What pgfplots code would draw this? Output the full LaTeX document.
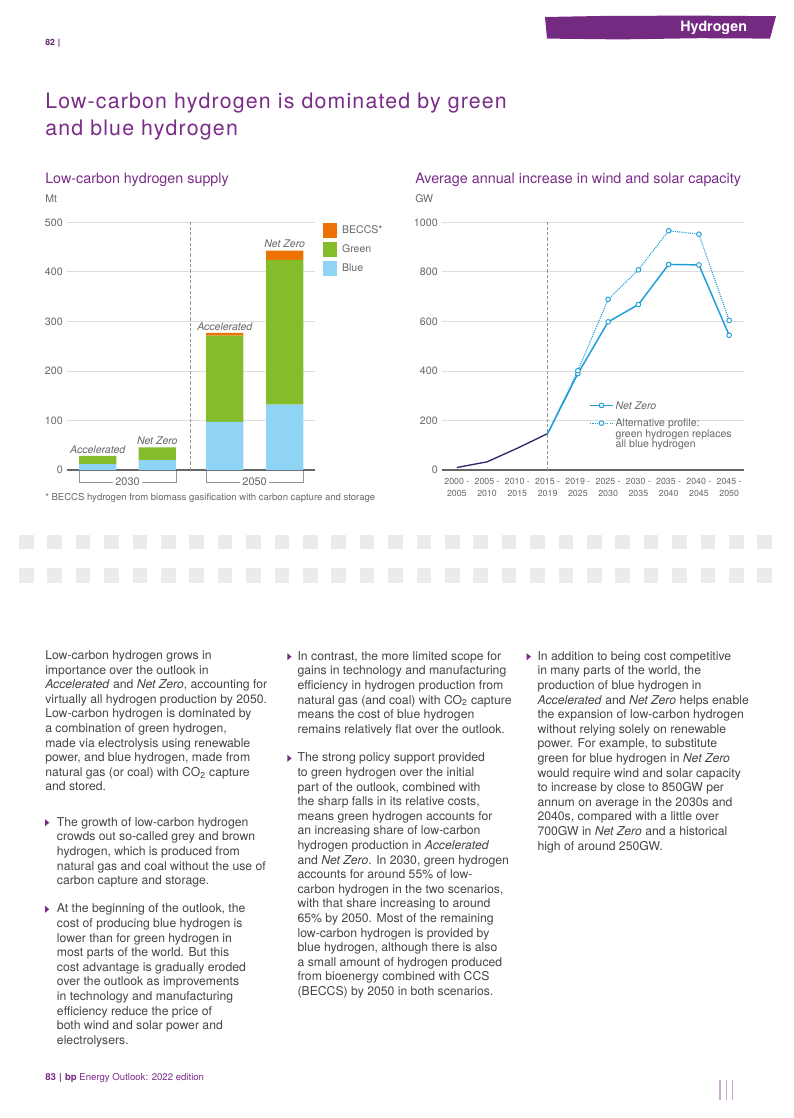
\documentclass[border=0pt]{standalone}
\usepackage{pgfplots}
\pgfplotsset{compat=1.18}
\usepackage{fontspec}
\setmainfont{TeX Gyre Heros}
\newfontfamily\titlefont[LetterSpace=5.5]{TeX Gyre Heros}

\definecolor{bppurple}{HTML}{7A2C88}
\definecolor{txt}{HTML}{444444}
\definecolor{tickc}{HTML}{666666}
\definecolor{gridc}{HTML}{DCDCDC}
\definecolor{hblue}{HTML}{8FD4F5}
\definecolor{hgreen}{HTML}{84BC2B}
\definecolor{horange}{HTML}{EE7203}
\definecolor{navy}{HTML}{2C2A6A}
\definecolor{lblue}{HTML}{1D9ED9}
\definecolor{boxgray}{HTML}{EBEBEB}

\pgfplotsset{
  bpaxis/.style={
    scale only axis, clip=false,
    axis x line*=bottom, axis y line*=left,
    y axis line style={draw=none},
    x axis line style={draw=tickc, line width=0.8pt},
    ymajorgrids, grid style={draw=gridc, line width=0.6pt},
    major tick length=0pt,
    tick label style={font=\fontsize{8}{9}\selectfont, text=tickc},
    yticklabel style={inner sep=0pt, xshift=-2.8pt},
    /pgf/number format/assume math mode=true,
    /pgf/number format/1000 sep={},
    scaled ticks=false,
  },
}

% body text paragraph, lines broken as in the report
\newcommand{\para}[3]{\node[anchor=base west, inner sep=0pt, text=txt,
  font=\fontsize{9.16}{10.95}\selectfont] at (#1,#2)
  {\parbox[t]{250pt}{\raggedright #3}};}
\newcommand{\bul}[2]{\fill[bppurple] (#1,#2-3.5) -- (#1+4.3,#2) -- (#1,#2+3.5) -- cycle;}

\begin{document}
\begin{tikzpicture}
\path[use as bounding box] (0pt,-838.5pt) rectangle (594.75pt,0pt);

\begin{scope}[x=0.75pt, y=-0.75pt]
  % header
  \node[anchor=base west, inner sep=0pt, text=bppurple!75!black,
    font=\fontsize{6.5}{8}\selectfont\bfseries] at (45,45) {82\,\,|};
  \fill[bppurple!95!black] (545,17) -- (600,16) -- (690,15.6) -- (776,16.2)
    -- (770,38.6) -- (700,38.2) -- (620,39.4) -- (547,38.6) -- cycle;
  \node[anchor=base west, inner sep=0pt, text=white,
    font=\fontsize{10.7}{12}\selectfont\bfseries] at (680,31.5) {Hydrogen};

  % page title
  \node[anchor=base west, inner sep=0pt, text=bppurple,
    font=\titlefont\fontsize{16}{20}\selectfont] at (45,108.3)
    {Low-carbon hydrogen is dominated by green};
  \node[anchor=base west, inner sep=0pt, text=bppurple,
    font=\titlefont\fontsize{16}{20}\selectfont] at (45,135)
    {and blue hydrogen};

  % chart titles and units
  \node[anchor=base west, inner sep=0pt, text=bppurple,
    font=\fontsize{10.75}{12}\selectfont] at (45,183.5) {Low-carbon hydrogen supply};
  \node[anchor=base west, inner sep=0pt, text=bppurple,
    font=\fontsize{10.75}{12}\selectfont] at (415,183.5) {Average annual increase in wind and solar capacity};
  \node[anchor=base west, inner sep=0pt, text=tickc,
    font=\fontsize{7.9}{9}\selectfont] at (45,202) {Mt};
  \node[anchor=base west, inner sep=0pt, text=tickc,
    font=\fontsize{7.9}{9}\selectfont] at (415,202) {GW};

  % year brackets under the bars
  \draw[tickc!70, line width=0.6pt] (79,470) -- (79,482) -- (176,482) -- (176,470);
  \draw[tickc!70, line width=0.6pt] (206,470) -- (206,482) -- (303.3,482) -- (303.3,470);
  \node[fill=white, inner sep=1.5pt, text=tickc, font=\fontsize{8.2}{9}\selectfont] at (127.5,482) {2030};
  \node[fill=white, inner sep=1.5pt, text=tickc, font=\fontsize{8.2}{9}\selectfont] at (254.6,482) {2050};

  % footnote
  \node[anchor=base west, inner sep=0pt, text=tickc,
    font=\fontsize{7.15}{8}\selectfont] at (45,500)
    {* BECCS hydrogen from biomass gasification with carbon capture and storage};

  % grey tiles
  \foreach \i in {0,...,26} {
    \fill[boxgray] ({19+\i*28.4},535) rectangle ++(14.6,14.3);
    \fill[boxgray] ({19+\i*28.4},568.3) rectangle ++(14.6,14.7);
  }

  % column 1
  \para{45}{659.5}{Low-carbon hydrogen grows in\\
    importance over the outlook in\\
    \textit{Accelerated} and \textit{Net Zero}, accounting for\\
    virtually all hydrogen production by 2050.\\
    Low-carbon hydrogen is dominated by\\
    a combination of green hydrogen,\\
    made via electrolysis using renewable\\
    power, and blue hydrogen, made from\\
    natural gas (or coal) with CO\textsubscript{2} capture\\
    and stored.}
  \bul{45}{822.7}
  \para{56.7}{826.2}{The growth of low-carbon hydrogen\\
    crowds out so-called grey and brown\\
    hydrogen, which is produced from\\
    natural gas and coal without the use of\\
    carbon capture and storage.}
  \bul{45}{909.3}
  \para{56.7}{912.8}{At the beginning of the outlook, the\\
    cost of producing blue hydrogen is\\
    lower than for green hydrogen in\\
    most parts of the world. But this\\
    cost advantage is gradually eroded\\
    over the outlook as improvements\\
    in technology and manufacturing\\
    efficiency reduce the price of\\
    both wind and solar power and\\
    electrolysers.}

  % column 2
  \bul{287.3}{656.7}
  \para{297.3}{660.2}{In contrast, the more limited scope for\\
    gains in technology and manufacturing\\
    efficiency in hydrogen production from\\
    natural gas (and coal) with CO\textsubscript{2} capture\\
    means the cost of blue hydrogen\\
    remains relatively flat over the outlook.}
  \bul{287.3}{758.3}
  \para{297.3}{761.8}{The strong policy support provided\\
    to green hydrogen over the initial\\
    part of the outlook, combined with\\
    the sharp falls in its relative costs,\\
    means green hydrogen accounts for\\
    an increasing share of low-carbon\\
    hydrogen production in \textit{Accelerated}\\
    and \textit{Net Zero}. In 2030, green hydrogen\\
    accounts for around 55\% of low-\\
    carbon hydrogen in the two scenarios,\\
    with that share increasing to around\\
    65\% by 2050. Most of the remaining\\
    low-carbon hydrogen is provided by\\
    blue hydrogen, although there is also\\
    a small amount of hydrogen produced\\
    from bioenergy combined with CCS\\
    (BECCS) by 2050 in both scenarios.}

  % column 3
  \bul{526.7}{656.7}
  \para{537.3}{660.2}{In addition to being cost competitive\\
    in many parts of the world, the\\
    production of blue hydrogen in\\
    \textit{Accelerated} and \textit{Net Zero} helps enable\\
    the expansion of low-carbon hydrogen\\
    without relying solely on renewable\\
    power. For example, to substitute\\
    green for blue hydrogen in \textit{Net Zero}\\
    would require wind and solar capacity\\
    to increase by close to 850GW per\\
    annum on average in the 2030s and\\
    2040s, compared with a little over\\
    700GW in \textit{Net Zero} and a historical\\
    high of around 250GW.}

  % footer
  \node[anchor=base west, inner sep=0pt, text=bppurple,
    font=\fontsize{7.2}{8}\selectfont] at (45,1080)
    {\textbf{83\,\,|\,\,bp} Energy Outlook: 2022 edition};
  \foreach \x in {720,726.5,732.7}
    \draw[bppurple!40, line width=1pt] (\x,1080) -- (\x,1100);
\end{scope}

% ---------- Low-carbon hydrogen supply ----------
\begin{axis}[bpaxis,
  at={(50.025pt,-352.5pt)}, anchor=south west,
  width=186.225pt, height=185.775pt,
  xmin=0, xmax=248.3, ymin=0, ymax=500,
  ytick={0,100,...,500}, xtick=\empty,
  ybar stacked, bar width=37.3,
  every axis plot post/.append style={legend image code/.code={\fill[##1] (0pt,-2.78pt) rectangle (10.9pt,8.47pt);}},
  reverse legend,
  legend style={at={(1.0294,1)}, anchor=north west, draw=none, fill=none,
    inner sep=0pt, row sep=3pt, column sep=3.75pt,
    font=\fontsize{7.9}{9}\selectfont, text=tickc,
    cells={anchor=base west}, nodes={inner sep=0pt}},
]
\addplot[fill=hblue, draw=none] coordinates {(31,12) (90.6,20) (158.1,97) (218,132)};
\addlegendentry{Blue}
\addplot[fill=hgreen, draw=none] coordinates {(31,16.3) (90.6,25.8) (158.1,174.2) (218,292)};
\addlegendentry{Green}
\addplot[fill=horange, draw=none] coordinates {(31,0) (90.6,0) (158.1,5.4) (218,18.8)};
\addlegendentry{BECCS*}
\draw[tickc!70, line width=0.6pt, dash pattern=on 2.5pt off 1.5pt] (axis cs:124,0) -- (axis cs:124,500);
\node[anchor=base, yshift=2.2pt, text=tickc, font=\fontsize{7.9}{9}\selectfont\itshape] at (axis cs:31,28.3) {Accelerated};
\node[anchor=base, yshift=2.2pt, text=tickc, font=\fontsize{7.9}{9}\selectfont\itshape] at (axis cs:90.6,45.8) {Net Zero};
\node[anchor=base, yshift=2.2pt, text=tickc, font=\fontsize{7.9}{9}\selectfont\itshape] at (axis cs:158.1,276.6) {Accelerated};
\node[anchor=base, yshift=2.2pt, text=tickc, font=\fontsize{7.9}{9}\selectfont\itshape] at (axis cs:218,442.8) {Net Zero};
\end{axis}

% ---------- Average annual increase in wind and solar capacity ----------
\begin{axis}[bpaxis,
  at={(331.275pt,-352.5pt)}, anchor=south west,
  width=226.95pt, height=185.775pt,
  xmin=-0.5, xmax=9.5, ymin=0, ymax=1000,
  ytick={0,200,...,1000},
  xtick={0,...,9},
  xticklabels={{2000 -\\2005},{2005 -\\2010},{2010 -\\2015},{2015 -\\2019},{2019 -\\2025},
    {2025 -\\2030},{2030 -\\2035},{2035 -\\2040},{2040 -\\2045},{2045 -\\2050}},
  xticklabel style={align=center, font=\fontsize{6.6}{8.7}\selectfont, inner sep=0pt, yshift=-6.2pt},
  legend image code/.code={\draw[#1, mark indices={2}] plot coordinates {(0pt,2.8pt) (8.4pt,2.8pt) (16.8pt,2.8pt)};},
  legend style={at={(0.4878,0.2777)}, anchor=north west, draw=none, fill=none,
    inner sep=0pt, row sep=6pt, column sep=1.7pt,
    font=\fontsize{7.9}{7.8}\selectfont, text=tickc,
    cells={anchor=base west}, nodes={inner sep=0pt}},
]
\addplot[navy, line width=1pt, forget plot] coordinates {(0,10) (1,33) (2,88) (3,147)};
\addplot[lblue, line width=1.1pt, mark=*, mark indices={2,3,4,5,6,7}, mark size=1.75pt,
  mark options={fill=white, draw=lblue, line width=0.7pt}]
  coordinates {(3,147) (4,389) (5,598) (6,668) (7,830) (8,828) (9,544)};
\addlegendentry{\textit{Net Zero}}
\addplot[lblue, line width=0.8pt, dash pattern=on 0.8pt off 0.8pt, mark=*, mark indices={2,3,4,5,6,7}, mark size=1.75pt,
  mark options={solid, fill=white, draw=lblue, line width=0.7pt}]
  coordinates {(3,147) (4,401) (5,689) (6,808) (7,966) (8,952) (9,604)};
\addlegendentry{\parbox[t]{5cm}{\raggedright Alternative profile:\\green hydrogen replaces\\all blue hydrogen}}
\draw[tickc!70, line width=0.6pt, dash pattern=on 2.5pt off 1.5pt] (axis cs:3,0) -- (axis cs:3,1000);
\end{axis}
\end{tikzpicture}
\end{document}
